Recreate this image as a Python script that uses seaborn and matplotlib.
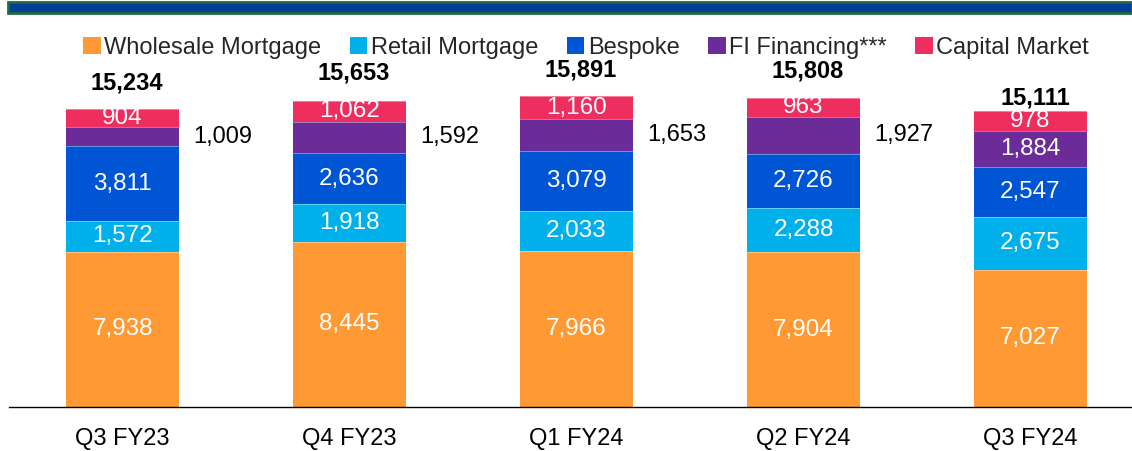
import matplotlib
matplotlib.use("Agg")
import matplotlib.pyplot as plt
from matplotlib.patches import Patch, Rectangle
import numpy as np
import pandas as pd
import seaborn as sns

# ---- data -------------------------------------------------------------
quarters = ["Q3 FY23", "Q4 FY23", "Q1 FY24", "Q2 FY24", "Q3 FY24"]
series_names = ["Wholesale Mortgage", "Retail Mortgage", "Bespoke",
                "FI Financing***", "Capital Market"]
wholesale = [7938, 8445, 7966, 7904, 7027]
retail = [1572, 1918, 2033, 2288, 2675]
bespoke = [3811, 2636, 3079, 2726, 2547]
fi_financing = [1009, 1592, 1653, 1927, 1884]
capital_market = [904, 1062, 1160, 963, 978]
totals = [15234, 15653, 15891, 15808, 15111]

colors = ["#FF9933", "#00B0EB", "#0055D4", "#6B2C9A", "#EE2E5E"]

# ---- style ------------------------------------------------------------
sns.set_theme(style="white")
plt.rcParams["font.family"] = ["Liberation Sans", "DejaVu Sans"]

W, H = 1132, 451
fig = plt.figure(figsize=(W / 100, H / 100), dpi=100)

# axes placement in pixel terms
ax_left, ax_right = 9, W
ax_bottom, ax_top = 407, 60
ax = fig.add_axes([ax_left / W, (H - ax_bottom) / H,
                   (ax_right - ax_left) / W, (ax_bottom - ax_top) / H])

values = np.array([wholesale, retail, bespoke, fi_financing, capital_market], dtype=float)
cum = np.cumsum(values, axis=0)
df = pd.DataFrame({"quarter": quarters})
for name, c in zip(series_names, cum):
    df[name] = c

# stacked bars: draw cumulative heights from the top series down
for i in range(len(series_names) - 1, -1, -1):
    sns.barplot(data=df, x="quarter", y=series_names[i], order=quarters,
                color=colors[i], saturation=1, width=0.5, linewidth=0,
                ax=ax)

# thin light separators between segments
for i in range(len(series_names)):
    for j in range(len(quarters)):
        ax.plot([j - 0.25, j + 0.25], [cum[i, j], cum[i, j]],
                color="white", lw=0.6, alpha=0.45, zorder=3)

px_per_unit = 0.01956
ax.set_xlim(-0.5, -0.5 + (ax_right - ax_left) / 227)
ax.set_ylim(0, (ax_bottom - ax_top) / px_per_unit)

# segment labels
label_fs = 17.5
for i in range(len(series_names)):
    for j in range(len(quarters)):
        v = values[i, j]
        mid = cum[i, j] - v / 2
        txt = f"{int(v):,}"
        if i == 3 and j < 4:
            ax.text(j + 0.44, mid, txt, ha="center", va="center",
                    color="black", fontsize=17, zorder=5)
        else:
            ax.text(j, mid, txt, ha="center", va="center",
                    color="white", fontsize=label_fs, zorder=5)

# totals above bars
total_pad = [19, 20, 19, 19, 10]
for j, t in enumerate(totals):
    ax.annotate(f"{t:,}", (j + 0.02, cum[-1, j]), xytext=(0, total_pad[j]),
                textcoords="offset points", ha="center", va="center",
                fontsize=17, fontweight="bold", color="black",
                annotation_clip=False)

# axes cosmetics
sns.despine(ax=ax, left=True, top=True, right=True)
ax.spines["bottom"].set_color("black")
ax.spines["bottom"].set_linewidth(1.0)
ax.set_yticks([])
ax.set_xlabel("")
ax.set_ylabel("")
ax.tick_params(axis="x", length=0, pad=15, labelsize=17, colors="black")

# legend
handles = [Patch(facecolor=c, edgecolor="none") for c in colors]
fig.legend(handles, series_names, loc="center", ncol=5,
           bbox_to_anchor=(586 / W, 1 - 48 / H), frameon=False,
           fontsize=17, handlelength=0.75, handleheight=0.75,
           handletextpad=0.15, columnspacing=1.2, borderaxespad=0)

# header band
fig.patches.append(Rectangle((8 / W, 1 - 13 / H), (W - 8) / W, 11 / H,
                             transform=fig.transFigure, facecolor="#003F9A",
                             edgecolor="#1E6B3C", linewidth=2.0, zorder=10))

fig.savefig("out.png", dpi=100)
